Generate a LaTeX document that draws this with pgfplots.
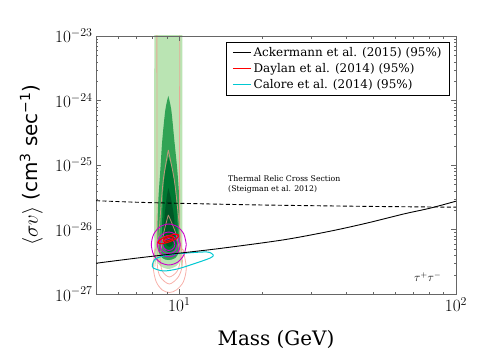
\documentclass[border=0pt]{standalone}
\usepackage{fontspec}
\setmainfont{DejaVu Serif}
\newfontfamily\dvsans{DejaVu Sans}
\usepackage{pgfplots}
\pgfplotsset{compat=1.18}

\definecolor{lgreen}{RGB}{186,228,179}
\definecolor{mgreen}{RGB}{49,163,84}
\definecolor{dgreen}{RGB}{0,120,50}
\definecolor{ddgreen}{RGB}{0,88,38}
\definecolor{salmon}{RGB}{245,150,140}
\definecolor{magen}{RGB}{204,0,204}
\definecolor{cyanl}{RGB}{0,200,210}

\begin{document}
\begin{tikzpicture}
\useasboundingbox (-96bp,-69bp) rectangle (389bp,294bp);

% posterior contours, drawn in log10 units (x = log10 M, y = log10 <sigma v>)
\begin{axis}[at={(0,0)},anchor=south west,width=360bp,height=258bp,scale only axis,
  xmin=0.69897,xmax=2,ymin=-27,ymax=-23,hide axis]
\addplot[fill=lgreen,draw=none,smooth] coordinates {
  (0.9097,-22.7) (0.9097,-26.318) (0.9170,-26.473) (0.9314,-26.566)
  (0.9603,-26.612) (0.9892,-26.566) (1.0036,-26.473) (1.0108,-26.318) (1.0108,-22.7)};
\addplot[fill=mgreen,draw=none,smooth] coordinates {
  (0.9603,-23.930) (0.9495,-24.147) (0.9386,-24.612) (0.9314,-25.078)
  (0.9242,-25.543) (0.9206,-26.008) (0.9242,-26.318) (0.9386,-26.442)
  (0.9603,-26.473) (0.9856,-26.442) (1.0000,-26.318) (1.0018,-26.008)
  (1.0000,-25.543) (0.9928,-25.078) (0.9819,-24.612) (0.9711,-24.147) (0.9603,-23.930)};
\addplot[fill=dgreen,draw=none,smooth] coordinates {
  (0.9603,-24.876) (0.9495,-25.078) (0.9422,-25.388) (0.9386,-25.775)
  (0.9386,-26.163) (0.9495,-26.318) (0.9639,-26.349) (0.9819,-26.318)
  (0.9928,-26.163) (0.9928,-25.775) (0.9856,-25.388) (0.9747,-25.078) (0.9603,-24.876)};
\addplot[fill=ddgreen,draw=none,smooth] coordinates {
  (0.9603,-25.357) (0.9531,-25.543) (0.9458,-25.853) (0.9458,-26.132)
  (0.9567,-26.256) (0.9711,-26.256) (0.9819,-26.132) (0.9819,-25.853)
  (0.9711,-25.543) (0.9603,-25.357)};
% light red contours
\addplot[draw=salmon,opacity=0.75,line width=0.8bp,smooth] coordinates {
  (0.9188,-22.7) (0.9188,-26.008) (0.9115,-26.318) (0.9061,-26.597)
  (0.9170,-26.814) (0.9386,-26.938) (0.9639,-26.977) (0.9892,-26.938)
  (1.0144,-26.814) (1.0253,-26.597) (1.0144,-26.318) (1.0018,-26.008) (1.0018,-22.7)};
\addplot[draw=salmon,opacity=0.75,line width=0.8bp,smooth] coordinates {
  (0.9603,-24.767) (0.9422,-25.233) (0.9314,-25.775) (0.9242,-26.240)
  (0.9206,-26.550) (0.9314,-26.736) (0.9639,-26.845) (0.9964,-26.736)
  (1.0108,-26.550) (1.0072,-26.240) (0.9964,-25.775) (0.9819,-25.233) (0.9603,-24.767)};
\addplot[draw=salmon,opacity=0.75,line width=0.8bp,smooth] coordinates {
  (0.9603,-25.775) (0.9422,-26.085) (0.9314,-26.442) (0.9386,-26.643)
  (0.9639,-26.736) (0.9928,-26.643) (1.0036,-26.442) (0.9892,-26.085) (0.9603,-25.775)};
% magenta contours
\addplot[draw=magen,line width=0.9bp,smooth] coordinates {
  (1.0253,-26.233) (1.0168,-26.074) (0.9937,-25.957) (0.9621,-25.915)
  (0.9305,-25.957) (0.9074,-26.074) (0.8989,-26.233) (0.9074,-26.392)
  (0.9305,-26.508) (0.9621,-26.550) (0.9937,-26.508) (1.0168,-26.392) (1.0253,-26.233)};
\addplot[draw=magen,line width=0.9bp,smooth] coordinates {
  (1.0036,-26.233) (0.9980,-26.136) (0.9829,-26.065) (0.9621,-26.039)
  (0.9413,-26.065) (0.9262,-26.136) (0.9206,-26.233) (0.9262,-26.330)
  (0.9413,-26.400) (0.9621,-26.426) (0.9829,-26.400) (0.9980,-26.330) (1.0036,-26.233)};
\addplot[draw=magen,line width=0.9bp,smooth] coordinates {
  (0.9946,-26.233) (0.9902,-26.163) (0.9783,-26.112) (0.9621,-26.093)
  (0.9459,-26.112) (0.9340,-26.163) (0.9296,-26.233) (0.9340,-26.303)
  (0.9459,-26.353) (0.9621,-26.372) (0.9783,-26.353) (0.9902,-26.303) (0.9946,-26.233)};
\addplot[draw=magen,line width=0.9bp,smooth] coordinates {
  (0.9838,-26.233) (0.9809,-26.187) (0.9729,-26.153) (0.9621,-26.140)
  (0.9513,-26.153) (0.9433,-26.187) (0.9404,-26.233) (0.9433,-26.279)
  (0.9513,-26.313) (0.9621,-26.326) (0.9729,-26.313) (0.9809,-26.279) (0.9838,-26.233)};
% red contours
\addplot[draw=red,line width=1.1bp,smooth] coordinates {
  (0.9975,-26.088) (0.9946,-26.119) (0.9823,-26.157) (0.9639,-26.191)
  (0.9448,-26.214) (0.9300,-26.220) (0.9231,-26.206) (0.9260,-26.177)
  (0.9383,-26.138) (0.9567,-26.104) (0.9758,-26.081) (0.9910,-26.074) (0.9975,-26.088)};
\addplot[draw=red,line width=1.1bp,smooth] coordinates {
  (0.9789,-26.117) (0.9775,-26.133) (0.9713,-26.152) (0.9621,-26.169)
  (0.9525,-26.181) (0.9451,-26.184) (0.9417,-26.177) (0.9431,-26.162)
  (0.9493,-26.142) (0.9585,-26.125) (0.9681,-26.114) (0.9757,-26.110) (0.9789,-26.117)};
% cyan contour
\addplot[draw=cyanl,line width=1bp,smooth] coordinates {
  (0.9025,-26.550) (0.9134,-26.457) (0.9567,-26.395) (1.0289,-26.364)
  (1.1011,-26.349) (1.1227,-26.395) (1.1119,-26.442) (1.0505,-26.535)
  (0.9928,-26.612) (0.9422,-26.643) (0.9061,-26.597) (0.9025,-26.550)};
\end{axis}

\begin{axis}[at={(0,0)},anchor=south west,width=360bp,height=258bp,scale only axis,
  xmode=log,ymode=log,xmin=5,xmax=100,ymin=1e-27,ymax=1e-23,
  axis line style={black!60},tick style={black!60},
  major tick length=5bp,minor tick length=2.5bp,
  tick label style={font=\fontsize{16.5}{18}\selectfont},
  xlabel={Mass (GeV)},
  xlabel style={font=\fontsize{20}{24}\selectfont,at={(axis description cs:0.5,-0.178)},anchor=center},
  ylabel={$\langle\sigma v\rangle$ {\dvsans(cm\textsuperscript{3} sec\textsuperscript{−1})}},
  ylabel style={font=\fontsize{20}{24}\selectfont,at={(axis description cs:-0.18,0.5)},anchor=center},
  legend style={at={(0.983,0.977)},anchor=north east,line width=0.6bp,
    font=\fontsize{12}{14}\selectfont,row sep=1.5bp,inner xsep=6bp,inner ysep=3bp},
  legend cell align=left,
  legend image code/.code={\draw[#1] (0bp,0bp) -- (18bp,0bp);},
]
\addplot[color=black,line width=0.9bp,smooth] coordinates {
  (5,3.0e-27) (7,3.6e-27) (10,4.3e-27) (14.1,5.1e-27) (23.7,6.9e-27)
  (35,9.4e-27) (47.7,1.26e-26) (65,1.75e-26) (80.5,2.14e-26) (100,2.75e-26)};
\addlegendentry{Ackermann et al. (2015) (95\%)}
\addlegendimage{color=red,line width=1.3bp}
\addlegendentry{Daylan et al. (2014) (95\%)}
\addlegendimage{color=cyanl,line width=1.3bp}
\addlegendentry{Calore et al. (2014) (95\%)}
\addplot[color=black,line width=0.9bp,dash pattern=on 4bp off 2.5bp,smooth,forget plot] coordinates {
  (5,2.8e-26) (7,2.65e-26) (10,2.55e-26) (20,2.4e-26) (50,2.28e-26) (100,2.22e-26)};
\node[anchor=north west,align=left,inner sep=0,font=\fontsize{7.8}{10}\selectfont]
  at (axis cs:15,6.9e-26) {Thermal Relic Cross Section\\(Steigman et al. 2012)};
\node[font=\fontsize{12}{14}\selectfont] at (axis cs:79,1.84e-27) {$\tau^+\tau^-$};
\end{axis}
\end{tikzpicture}
\end{document}
